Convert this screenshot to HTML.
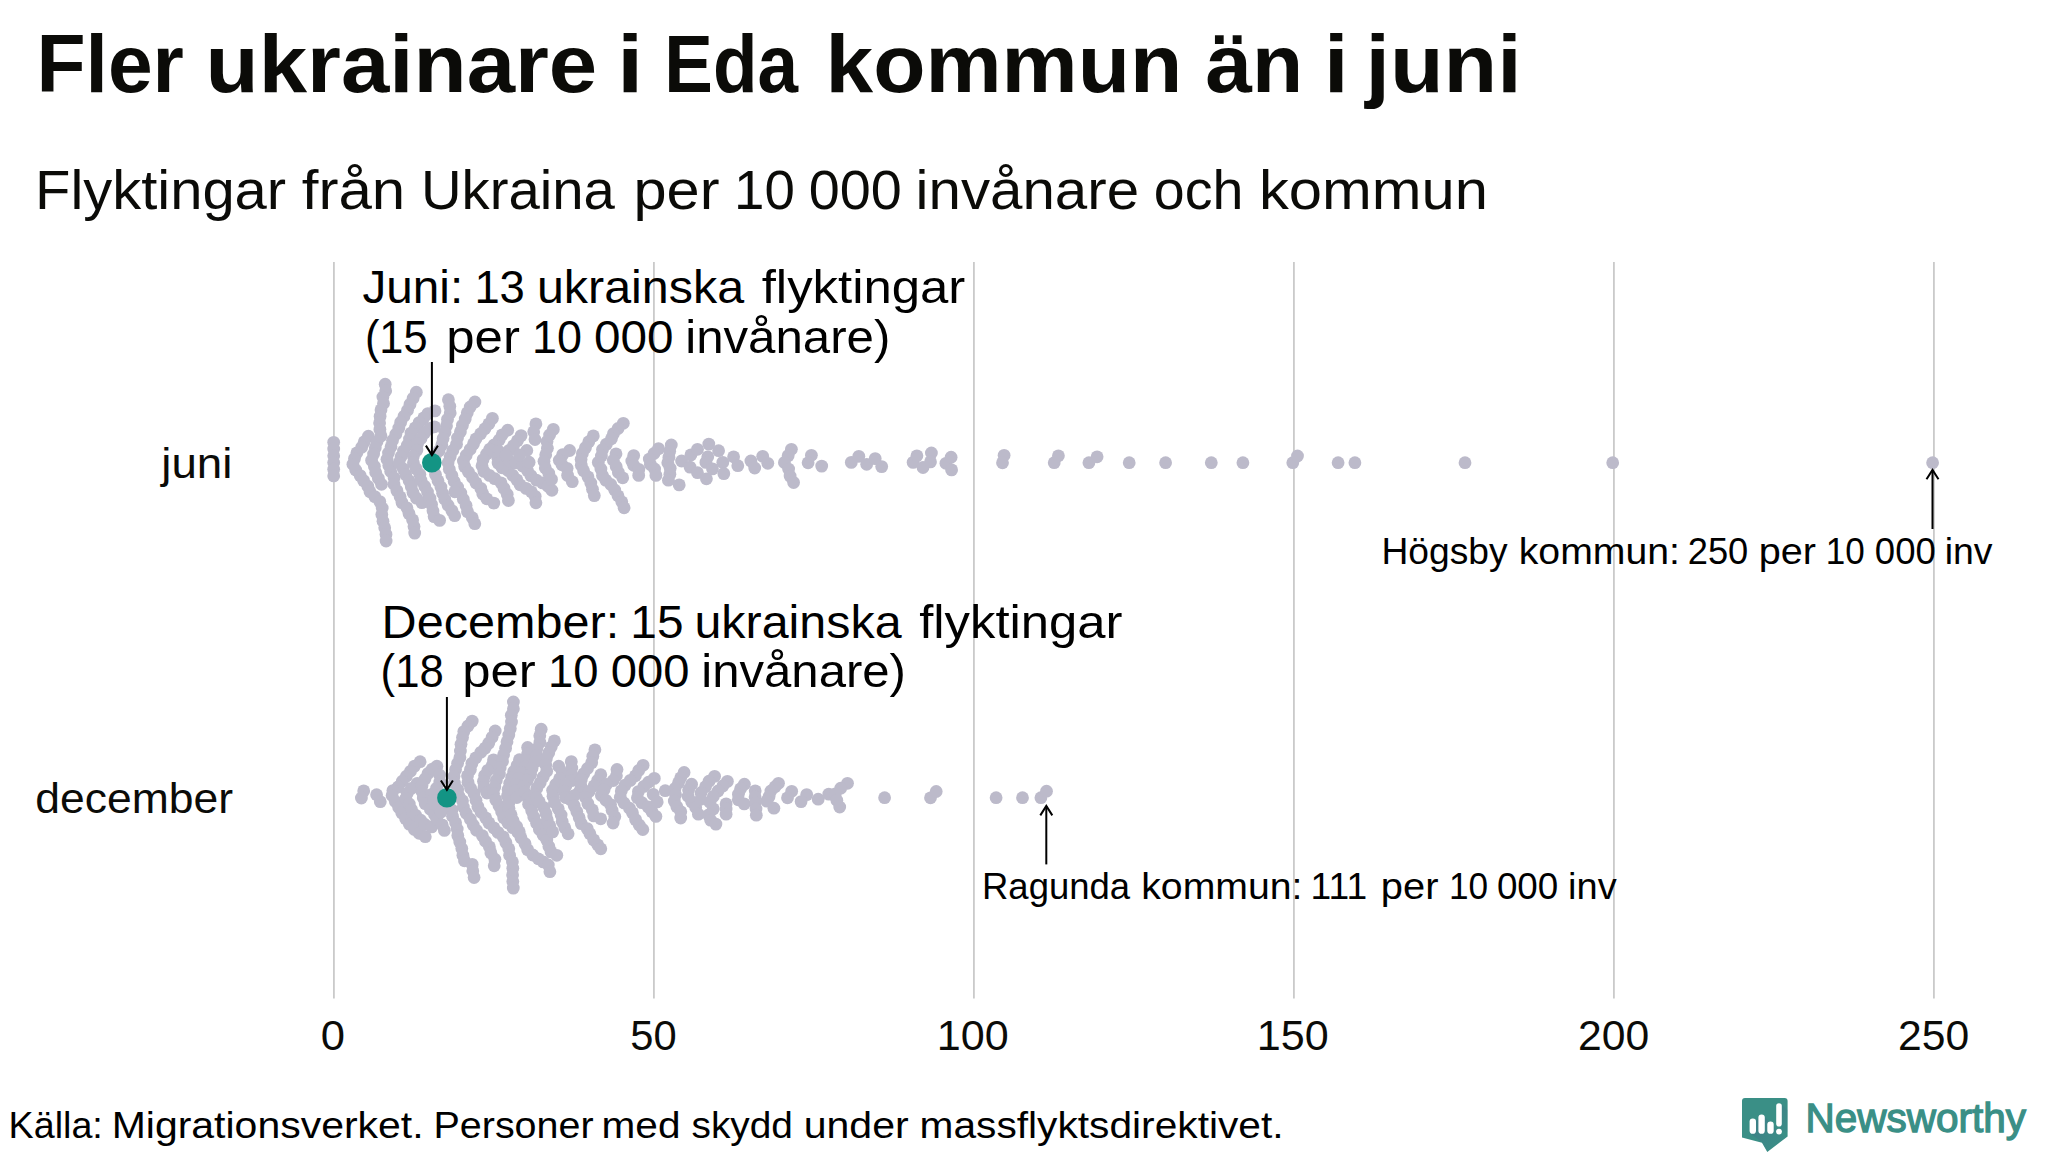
<!DOCTYPE html>
<html lang="sv"><head><meta charset="utf-8"><title>Fler ukrainare i Eda kommun än i juni</title>
<style>html,body{margin:0;padding:0;background:#fff;}svg{display:block}</style></head>
<body>
<svg width="2048" height="1152" viewBox="0 0 2048 1152">
<rect width="2048" height="1152" fill="#fff"/>
<g stroke="#cacaca" stroke-width="1.8">
<line x1="333.9" y1="262.0" x2="333.9" y2="998.5"/>
<line x1="653.9" y1="262.0" x2="653.9" y2="998.5"/>
<line x1="973.9" y1="262.0" x2="973.9" y2="998.5"/>
<line x1="1293.9" y1="262.0" x2="1293.9" y2="998.5"/>
<line x1="1613.9" y1="262.0" x2="1613.9" y2="998.5"/>
<line x1="1933.9" y1="262.0" x2="1933.9" y2="998.5"/>
</g>
<g fill="#bcbaca">
<circle cx="333.7" cy="442.3" r="6.40"/>
<circle cx="333.7" cy="449.0" r="6.40"/>
<circle cx="333.7" cy="455.7" r="6.40"/>
<circle cx="333.7" cy="462.5" r="6.40"/>
<circle cx="333.7" cy="469.2" r="6.40"/>
<circle cx="333.7" cy="475.9" r="6.40"/>
<circle cx="368.4" cy="436.2" r="6.40"/>
<circle cx="364.3" cy="441.7" r="6.40"/>
<circle cx="361.7" cy="447.2" r="6.40"/>
<circle cx="356.9" cy="452.8" r="6.40"/>
<circle cx="354.5" cy="458.6" r="6.40"/>
<circle cx="352.9" cy="464.3" r="6.40"/>
<circle cx="355.7" cy="470.0" r="6.40"/>
<circle cx="360.2" cy="475.6" r="6.40"/>
<circle cx="363.6" cy="480.6" r="6.40"/>
<circle cx="367.8" cy="486.2" r="6.40"/>
<circle cx="370.0" cy="491.8" r="6.40"/>
<circle cx="374.8" cy="496.6" r="6.40"/>
<circle cx="379.8" cy="501.6" r="6.40"/>
<circle cx="382.2" cy="508.1" r="6.40"/>
<circle cx="381.8" cy="514.6" r="6.40"/>
<circle cx="383.0" cy="521.2" r="6.40"/>
<circle cx="384.7" cy="527.8" r="6.40"/>
<circle cx="386.0" cy="534.4" r="6.40"/>
<circle cx="386.1" cy="541.0" r="6.40"/>
<circle cx="385.2" cy="384.2" r="6.40"/>
<circle cx="385.7" cy="390.7" r="6.40"/>
<circle cx="382.9" cy="397.1" r="6.40"/>
<circle cx="383.5" cy="403.5" r="6.40"/>
<circle cx="381.0" cy="409.9" r="6.40"/>
<circle cx="380.1" cy="416.4" r="6.40"/>
<circle cx="379.6" cy="422.9" r="6.40"/>
<circle cx="379.9" cy="429.4" r="6.40"/>
<circle cx="381.0" cy="435.9" r="6.40"/>
<circle cx="377.0" cy="441.8" r="6.40"/>
<circle cx="375.3" cy="447.8" r="6.40"/>
<circle cx="373.6" cy="454.1" r="6.40"/>
<circle cx="371.6" cy="460.4" r="6.40"/>
<circle cx="374.4" cy="466.4" r="6.40"/>
<circle cx="375.7" cy="472.5" r="6.40"/>
<circle cx="378.4" cy="478.4" r="6.40"/>
<circle cx="381.5" cy="484.3" r="6.40"/>
<circle cx="416.3" cy="392.2" r="6.40"/>
<circle cx="413.1" cy="398.3" r="6.40"/>
<circle cx="410.0" cy="404.4" r="6.40"/>
<circle cx="407.5" cy="410.3" r="6.40"/>
<circle cx="404.0" cy="416.2" r="6.40"/>
<circle cx="400.7" cy="422.2" r="6.40"/>
<circle cx="398.8" cy="428.1" r="6.40"/>
<circle cx="395.8" cy="434.2" r="6.40"/>
<circle cx="392.5" cy="440.5" r="6.40"/>
<circle cx="391.0" cy="446.8" r="6.40"/>
<circle cx="388.5" cy="453.0" r="6.40"/>
<circle cx="387.0" cy="459.3" r="6.40"/>
<circle cx="388.8" cy="465.5" r="6.40"/>
<circle cx="390.7" cy="471.5" r="6.40"/>
<circle cx="394.1" cy="477.9" r="6.40"/>
<circle cx="394.0" cy="484.3" r="6.40"/>
<circle cx="396.9" cy="490.6" r="6.40"/>
<circle cx="400.1" cy="496.8" r="6.40"/>
<circle cx="402.0" cy="502.6" r="6.40"/>
<circle cx="406.9" cy="507.8" r="6.40"/>
<circle cx="409.0" cy="513.6" r="6.40"/>
<circle cx="412.6" cy="519.9" r="6.40"/>
<circle cx="414.0" cy="526.5" r="6.40"/>
<circle cx="414.7" cy="533.1" r="6.40"/>
<circle cx="435.0" cy="410.9" r="6.40"/>
<circle cx="427.9" cy="413.6" r="6.40"/>
<circle cx="423.8" cy="417.9" r="6.40"/>
<circle cx="419.1" cy="422.6" r="6.40"/>
<circle cx="415.2" cy="427.8" r="6.40"/>
<circle cx="411.0" cy="433.1" r="6.40"/>
<circle cx="409.5" cy="439.1" r="6.40"/>
<circle cx="407.3" cy="445.2" r="6.40"/>
<circle cx="403.5" cy="451.1" r="6.40"/>
<circle cx="401.0" cy="456.9" r="6.40"/>
<circle cx="399.1" cy="462.9" r="6.40"/>
<circle cx="403.2" cy="468.8" r="6.40"/>
<circle cx="405.8" cy="474.7" r="6.40"/>
<circle cx="409.1" cy="480.7" r="6.40"/>
<circle cx="411.3" cy="486.7" r="6.40"/>
<circle cx="413.0" cy="492.6" r="6.40"/>
<circle cx="416.5" cy="498.2" r="6.40"/>
<circle cx="421.9" cy="502.6" r="6.40"/>
<circle cx="434.5" cy="426.8" r="6.40"/>
<circle cx="429.8" cy="428.3" r="6.40"/>
<circle cx="424.6" cy="432.9" r="6.40"/>
<circle cx="421.0" cy="438.4" r="6.40"/>
<circle cx="417.5" cy="443.9" r="6.40"/>
<circle cx="416.9" cy="450.1" r="6.40"/>
<circle cx="413.3" cy="456.2" r="6.40"/>
<circle cx="413.4" cy="462.7" r="6.40"/>
<circle cx="416.1" cy="468.6" r="6.40"/>
<circle cx="419.9" cy="474.5" r="6.40"/>
<circle cx="421.0" cy="480.4" r="6.40"/>
<circle cx="424.7" cy="486.2" r="6.40"/>
<circle cx="427.5" cy="492.1" r="6.40"/>
<circle cx="430.0" cy="498.4" r="6.40"/>
<circle cx="431.6" cy="504.6" r="6.40"/>
<circle cx="433.0" cy="511.0" r="6.40"/>
<circle cx="434.1" cy="516.6" r="6.40"/>
<circle cx="439.6" cy="520.4" r="6.40"/>
<circle cx="448.4" cy="399.7" r="6.40"/>
<circle cx="449.8" cy="406.3" r="6.40"/>
<circle cx="450.2" cy="412.9" r="6.40"/>
<circle cx="447.5" cy="419.4" r="6.40"/>
<circle cx="446.5" cy="425.9" r="6.40"/>
<circle cx="445.0" cy="432.3" r="6.40"/>
<circle cx="443.1" cy="438.6" r="6.40"/>
<circle cx="441.8" cy="444.9" r="6.40"/>
<circle cx="439.1" cy="450.8" r="6.40"/>
<circle cx="435.0" cy="456.4" r="6.40"/>
<circle cx="431.0" cy="462.1" r="6.40"/>
<circle cx="433.5" cy="468.3" r="6.40"/>
<circle cx="435.5" cy="474.6" r="6.40"/>
<circle cx="438.0" cy="480.8" r="6.40"/>
<circle cx="440.9" cy="487.1" r="6.40"/>
<circle cx="442.6" cy="493.3" r="6.40"/>
<circle cx="444.8" cy="499.3" r="6.40"/>
<circle cx="448.1" cy="505.2" r="6.40"/>
<circle cx="451.9" cy="510.6" r="6.40"/>
<circle cx="454.7" cy="515.7" r="6.40"/>
<circle cx="474.9" cy="402.0" r="6.40"/>
<circle cx="470.2" cy="407.0" r="6.40"/>
<circle cx="467.3" cy="412.7" r="6.40"/>
<circle cx="465.2" cy="419.1" r="6.40"/>
<circle cx="462.4" cy="425.4" r="6.40"/>
<circle cx="460.4" cy="431.7" r="6.40"/>
<circle cx="457.5" cy="438.0" r="6.40"/>
<circle cx="456.5" cy="444.3" r="6.40"/>
<circle cx="452.8" cy="450.5" r="6.40"/>
<circle cx="450.2" cy="456.6" r="6.40"/>
<circle cx="448.1" cy="462.8" r="6.40"/>
<circle cx="449.3" cy="469.3" r="6.40"/>
<circle cx="451.9" cy="475.5" r="6.40"/>
<circle cx="454.2" cy="481.5" r="6.40"/>
<circle cx="457.6" cy="487.1" r="6.40"/>
<circle cx="460.8" cy="493.1" r="6.40"/>
<circle cx="463.3" cy="499.2" r="6.40"/>
<circle cx="466.1" cy="505.5" r="6.40"/>
<circle cx="467.5" cy="511.8" r="6.40"/>
<circle cx="472.3" cy="517.7" r="6.40"/>
<circle cx="474.8" cy="523.7" r="6.40"/>
<circle cx="454.8" cy="491.8" r="6.40"/>
<circle cx="492.4" cy="418.4" r="6.40"/>
<circle cx="488.9" cy="423.8" r="6.40"/>
<circle cx="484.9" cy="428.7" r="6.40"/>
<circle cx="480.6" cy="433.7" r="6.40"/>
<circle cx="476.0" cy="438.8" r="6.40"/>
<circle cx="473.5" cy="443.9" r="6.40"/>
<circle cx="470.2" cy="449.3" r="6.40"/>
<circle cx="466.2" cy="455.2" r="6.40"/>
<circle cx="463.4" cy="461.1" r="6.40"/>
<circle cx="464.7" cy="466.6" r="6.40"/>
<circle cx="468.4" cy="472.0" r="6.40"/>
<circle cx="472.5" cy="477.5" r="6.40"/>
<circle cx="476.0" cy="482.9" r="6.40"/>
<circle cx="480.8" cy="488.4" r="6.40"/>
<circle cx="482.8" cy="493.9" r="6.40"/>
<circle cx="486.8" cy="498.8" r="6.40"/>
<circle cx="493.8" cy="503.1" r="6.40"/>
<circle cx="507.7" cy="430.2" r="6.40"/>
<circle cx="502.2" cy="434.8" r="6.40"/>
<circle cx="499.2" cy="440.0" r="6.40"/>
<circle cx="494.0" cy="445.0" r="6.40"/>
<circle cx="489.9" cy="449.1" r="6.40"/>
<circle cx="486.6" cy="454.0" r="6.40"/>
<circle cx="483.1" cy="459.6" r="6.40"/>
<circle cx="482.0" cy="465.7" r="6.40"/>
<circle cx="484.0" cy="471.4" r="6.40"/>
<circle cx="489.4" cy="475.4" r="6.40"/>
<circle cx="494.7" cy="478.6" r="6.40"/>
<circle cx="501.0" cy="482.8" r="6.40"/>
<circle cx="504.0" cy="488.4" r="6.40"/>
<circle cx="507.2" cy="494.3" r="6.40"/>
<circle cx="508.4" cy="500.5" r="6.40"/>
<circle cx="498.8" cy="451.2" r="6.40"/>
<circle cx="497.6" cy="457.3" r="6.40"/>
<circle cx="498.1" cy="463.1" r="6.40"/>
<circle cx="502.1" cy="467.8" r="6.40"/>
<circle cx="508.0" cy="470.5" r="6.40"/>
<circle cx="512.5" cy="475.1" r="6.40"/>
<circle cx="516.9" cy="479.9" r="6.40"/>
<circle cx="520.1" cy="484.8" r="6.40"/>
<circle cx="526.1" cy="488.4" r="6.40"/>
<circle cx="531.3" cy="491.8" r="6.40"/>
<circle cx="535.2" cy="496.3" r="6.40"/>
<circle cx="535.9" cy="502.8" r="6.40"/>
<circle cx="509.9" cy="461.4" r="6.40"/>
<circle cx="516.3" cy="462.9" r="6.40"/>
<circle cx="522.6" cy="466.0" r="6.40"/>
<circle cx="527.6" cy="470.8" r="6.40"/>
<circle cx="530.9" cy="475.6" r="6.40"/>
<circle cx="536.4" cy="480.1" r="6.40"/>
<circle cx="542.5" cy="482.9" r="6.40"/>
<circle cx="548.0" cy="486.3" r="6.40"/>
<circle cx="551.9" cy="490.3" r="6.40"/>
<circle cx="521.1" cy="435.6" r="6.40"/>
<circle cx="517.4" cy="440.7" r="6.40"/>
<circle cx="513.4" cy="445.7" r="6.40"/>
<circle cx="509.2" cy="450.4" r="6.40"/>
<circle cx="506.0" cy="455.2" r="6.40"/>
<circle cx="526.8" cy="450.5" r="6.40"/>
<circle cx="529.1" cy="462.2" r="6.40"/>
<circle cx="519.5" cy="455.0" r="6.40"/>
<circle cx="535.9" cy="423.9" r="6.40"/>
<circle cx="533.7" cy="431.7" r="6.40"/>
<circle cx="535.0" cy="439.5" r="6.40"/>
<circle cx="553.3" cy="429.4" r="6.40"/>
<circle cx="549.6" cy="435.0" r="6.40"/>
<circle cx="547.0" cy="441.5" r="6.40"/>
<circle cx="547.4" cy="448.2" r="6.40"/>
<circle cx="545.7" cy="454.7" r="6.40"/>
<circle cx="544.0" cy="461.3" r="6.40"/>
<circle cx="545.3" cy="467.9" r="6.40"/>
<circle cx="548.8" cy="473.4" r="6.40"/>
<circle cx="551.5" cy="479.4" r="6.40"/>
<circle cx="569.6" cy="450.5" r="6.40"/>
<circle cx="562.7" cy="454.6" r="6.40"/>
<circle cx="559.3" cy="460.2" r="6.40"/>
<circle cx="562.0" cy="464.8" r="6.40"/>
<circle cx="567.1" cy="468.3" r="6.40"/>
<circle cx="567.6" cy="475.4" r="6.40"/>
<circle cx="572.3" cy="481.7" r="6.40"/>
<circle cx="593.3" cy="435.9" r="6.40"/>
<circle cx="588.8" cy="441.7" r="6.40"/>
<circle cx="585.5" cy="447.6" r="6.40"/>
<circle cx="582.4" cy="453.5" r="6.40"/>
<circle cx="581.1" cy="459.5" r="6.40"/>
<circle cx="581.3" cy="465.3" r="6.40"/>
<circle cx="583.6" cy="470.8" r="6.40"/>
<circle cx="588.0" cy="476.9" r="6.40"/>
<circle cx="590.8" cy="483.1" r="6.40"/>
<circle cx="592.5" cy="489.3" r="6.40"/>
<circle cx="594.3" cy="495.6" r="6.40"/>
<circle cx="623.3" cy="423.3" r="6.40"/>
<circle cx="618.1" cy="428.5" r="6.40"/>
<circle cx="613.5" cy="433.6" r="6.40"/>
<circle cx="611.4" cy="438.8" r="6.40"/>
<circle cx="606.5" cy="444.1" r="6.40"/>
<circle cx="602.5" cy="449.6" r="6.40"/>
<circle cx="601.4" cy="456.0" r="6.40"/>
<circle cx="598.3" cy="462.4" r="6.40"/>
<circle cx="600.9" cy="469.0" r="6.40"/>
<circle cx="602.5" cy="475.5" r="6.40"/>
<circle cx="605.7" cy="480.1" r="6.40"/>
<circle cx="610.8" cy="484.5" r="6.40"/>
<circle cx="614.7" cy="490.0" r="6.40"/>
<circle cx="618.0" cy="495.8" r="6.40"/>
<circle cx="621.8" cy="501.8" r="6.40"/>
<circle cx="624.1" cy="507.8" r="6.40"/>
<circle cx="616.0" cy="453.8" r="6.40"/>
<circle cx="613.3" cy="460.3" r="6.40"/>
<circle cx="616.2" cy="466.5" r="6.40"/>
<circle cx="618.4" cy="472.4" r="6.40"/>
<circle cx="622.7" cy="477.8" r="6.40"/>
<circle cx="633.7" cy="455.6" r="6.40"/>
<circle cx="631.8" cy="461.1" r="6.40"/>
<circle cx="633.7" cy="465.3" r="6.40"/>
<circle cx="638.8" cy="469.4" r="6.40"/>
<circle cx="638.7" cy="475.4" r="6.40"/>
<circle cx="658.5" cy="448.6" r="6.40"/>
<circle cx="654.0" cy="453.5" r="6.40"/>
<circle cx="649.3" cy="459.1" r="6.40"/>
<circle cx="650.4" cy="464.4" r="6.40"/>
<circle cx="654.6" cy="469.0" r="6.40"/>
<circle cx="655.9" cy="475.4" r="6.40"/>
<circle cx="671.3" cy="445.0" r="6.40"/>
<circle cx="669.7" cy="451.3" r="6.40"/>
<circle cx="668.9" cy="457.2" r="6.40"/>
<circle cx="667.8" cy="462.7" r="6.40"/>
<circle cx="670.2" cy="468.3" r="6.40"/>
<circle cx="669.9" cy="474.2" r="6.40"/>
<circle cx="668.4" cy="480.2" r="6.40"/>
<circle cx="679.2" cy="484.9" r="6.40"/>
<circle cx="681.6" cy="461.0" r="6.40"/>
<circle cx="690.9" cy="454.9" r="6.40"/>
<circle cx="697.5" cy="449.3" r="6.40"/>
<circle cx="690.0" cy="467.1" r="6.40"/>
<circle cx="697.5" cy="472.7" r="6.40"/>
<circle cx="706.4" cy="478.8" r="6.40"/>
<circle cx="708.8" cy="444.1" r="6.40"/>
<circle cx="718.6" cy="450.7" r="6.40"/>
<circle cx="707.8" cy="456.8" r="6.40"/>
<circle cx="705.9" cy="462.4" r="6.40"/>
<circle cx="712.5" cy="468.9" r="6.40"/>
<circle cx="722.8" cy="462.4" r="6.40"/>
<circle cx="723.8" cy="473.6" r="6.40"/>
<circle cx="733.6" cy="456.8" r="6.40"/>
<circle cx="737.8" cy="465.7" r="6.40"/>
<circle cx="750.9" cy="461.0" r="6.40"/>
<circle cx="754.7" cy="468.0" r="6.40"/>
<circle cx="762.7" cy="456.3" r="6.40"/>
<circle cx="767.8" cy="463.3" r="6.40"/>
<circle cx="791.4" cy="449.3" r="6.40"/>
<circle cx="788.2" cy="455.6" r="6.40"/>
<circle cx="784.4" cy="462.5" r="6.40"/>
<circle cx="788.6" cy="469.1" r="6.40"/>
<circle cx="790.1" cy="476.1" r="6.40"/>
<circle cx="793.6" cy="482.5" r="6.40"/>
<circle cx="811.4" cy="455.3" r="6.40"/>
<circle cx="808.1" cy="462.8" r="6.40"/>
<circle cx="821.7" cy="466.1" r="6.40"/>
<circle cx="851.3" cy="462.4" r="6.40"/>
<circle cx="858.8" cy="456.3" r="6.40"/>
<circle cx="866.7" cy="464.3" r="6.40"/>
<circle cx="875.2" cy="458.6" r="6.40"/>
<circle cx="881.7" cy="466.6" r="6.40"/>
<circle cx="913.1" cy="462.4" r="6.40"/>
<circle cx="916.9" cy="455.8" r="6.40"/>
<circle cx="923.0" cy="467.5" r="6.40"/>
<circle cx="931.4" cy="453.0" r="6.40"/>
<circle cx="930.5" cy="461.9" r="6.40"/>
<circle cx="945.9" cy="463.3" r="6.40"/>
<circle cx="951.1" cy="457.2" r="6.40"/>
<circle cx="951.6" cy="469.9" r="6.40"/>
<circle cx="1004.1" cy="455.3" r="6.40"/>
<circle cx="1002.5" cy="462.8" r="6.40"/>
<circle cx="1054.2" cy="462.7" r="6.40"/>
<circle cx="1058.4" cy="455.8" r="6.40"/>
<circle cx="1088.9" cy="462.7" r="6.40"/>
<circle cx="1097.1" cy="456.8" r="6.40"/>
<circle cx="1129.2" cy="462.7" r="6.40"/>
<circle cx="1165.6" cy="462.7" r="6.40"/>
<circle cx="1211.3" cy="462.7" r="6.40"/>
<circle cx="1242.9" cy="462.7" r="6.40"/>
<circle cx="1292.8" cy="462.7" r="6.40"/>
<circle cx="1297.5" cy="456.0" r="6.40"/>
<circle cx="1338.1" cy="462.7" r="6.40"/>
<circle cx="1354.9" cy="462.7" r="6.40"/>
<circle cx="1465.0" cy="462.7" r="6.40"/>
<circle cx="1612.7" cy="462.7" r="6.40"/>
<circle cx="1932.6" cy="462.7" r="6.40"/>
<circle cx="363.7" cy="790.9" r="6.40"/>
<circle cx="361.4" cy="798.0" r="6.40"/>
<circle cx="376.6" cy="794.7" r="6.40"/>
<circle cx="380.3" cy="801.7" r="6.40"/>
<circle cx="420.1" cy="761.7" r="6.40"/>
<circle cx="414.5" cy="766.1" r="6.40"/>
<circle cx="410.5" cy="771.3" r="6.40"/>
<circle cx="406.4" cy="776.2" r="6.40"/>
<circle cx="402.3" cy="781.2" r="6.40"/>
<circle cx="398.1" cy="787.0" r="6.40"/>
<circle cx="392.9" cy="790.6" r="6.40"/>
<circle cx="392.1" cy="795.5" r="6.40"/>
<circle cx="395.3" cy="801.5" r="6.40"/>
<circle cx="398.7" cy="807.4" r="6.40"/>
<circle cx="401.8" cy="813.0" r="6.40"/>
<circle cx="405.6" cy="818.6" r="6.40"/>
<circle cx="409.3" cy="824.1" r="6.40"/>
<circle cx="414.4" cy="829.4" r="6.40"/>
<circle cx="419.2" cy="833.3" r="6.40"/>
<circle cx="425.3" cy="836.7" r="6.40"/>
<circle cx="417.2" cy="783.3" r="6.40"/>
<circle cx="411.3" cy="788.5" r="6.40"/>
<circle cx="407.2" cy="793.3" r="6.40"/>
<circle cx="405.8" cy="798.4" r="6.40"/>
<circle cx="409.3" cy="804.0" r="6.40"/>
<circle cx="411.5" cy="809.6" r="6.40"/>
<circle cx="415.5" cy="815.1" r="6.40"/>
<circle cx="420.7" cy="820.2" r="6.40"/>
<circle cx="425.0" cy="824.5" r="6.40"/>
<circle cx="431.7" cy="826.9" r="6.40"/>
<circle cx="436.9" cy="766.2" r="6.40"/>
<circle cx="432.3" cy="769.1" r="6.40"/>
<circle cx="428.0" cy="773.5" r="6.40"/>
<circle cx="425.0" cy="779.0" r="6.40"/>
<circle cx="422.0" cy="785.4" r="6.40"/>
<circle cx="422.0" cy="791.8" r="6.40"/>
<circle cx="423.3" cy="798.0" r="6.40"/>
<circle cx="425.2" cy="803.7" r="6.40"/>
<circle cx="430.3" cy="809.2" r="6.40"/>
<circle cx="434.5" cy="814.4" r="6.40"/>
<circle cx="436.8" cy="819.5" r="6.40"/>
<circle cx="442.2" cy="824.8" r="6.40"/>
<circle cx="444.4" cy="830.4" r="6.40"/>
<circle cx="439.5" cy="775.0" r="6.40"/>
<circle cx="439.8" cy="782.0" r="6.40"/>
<circle cx="436.5" cy="788.3" r="6.40"/>
<circle cx="431.7" cy="794.4" r="6.40"/>
<circle cx="433.5" cy="800.4" r="6.40"/>
<circle cx="437.6" cy="806.2" r="6.40"/>
<circle cx="441.1" cy="812.0" r="6.40"/>
<circle cx="446.2" cy="797.5" r="6.40"/>
<circle cx="448.8" cy="803.8" r="6.40"/>
<circle cx="452.0" cy="810.0" r="6.40"/>
<circle cx="452.5" cy="816.3" r="6.40"/>
<circle cx="455.6" cy="822.7" r="6.40"/>
<circle cx="457.2" cy="829.1" r="6.40"/>
<circle cx="457.8" cy="835.6" r="6.40"/>
<circle cx="459.8" cy="842.1" r="6.40"/>
<circle cx="461.8" cy="848.6" r="6.40"/>
<circle cx="462.9" cy="855.2" r="6.40"/>
<circle cx="464.5" cy="860.8" r="6.40"/>
<circle cx="472.2" cy="864.4" r="6.40"/>
<circle cx="472.8" cy="870.9" r="6.40"/>
<circle cx="474.1" cy="877.5" r="6.40"/>
<circle cx="472.2" cy="721.1" r="6.40"/>
<circle cx="468.0" cy="726.0" r="6.40"/>
<circle cx="463.8" cy="731.6" r="6.40"/>
<circle cx="462.5" cy="737.6" r="6.40"/>
<circle cx="461.0" cy="744.3" r="6.40"/>
<circle cx="460.4" cy="751.0" r="6.40"/>
<circle cx="459.9" cy="757.5" r="6.40"/>
<circle cx="457.6" cy="763.3" r="6.40"/>
<circle cx="455.6" cy="769.6" r="6.40"/>
<circle cx="454.0" cy="776.3" r="6.40"/>
<circle cx="454.4" cy="783.0" r="6.40"/>
<circle cx="457.7" cy="789.5" r="6.40"/>
<circle cx="458.8" cy="796.0" r="6.40"/>
<circle cx="462.5" cy="800.7" r="6.40"/>
<circle cx="463.4" cy="807.0" r="6.40"/>
<circle cx="466.1" cy="813.1" r="6.40"/>
<circle cx="470.3" cy="819.2" r="6.40"/>
<circle cx="473.2" cy="825.0" r="6.40"/>
<circle cx="476.5" cy="830.3" r="6.40"/>
<circle cx="482.4" cy="835.7" r="6.40"/>
<circle cx="485.5" cy="841.3" r="6.40"/>
<circle cx="489.4" cy="846.9" r="6.40"/>
<circle cx="490.9" cy="852.9" r="6.40"/>
<circle cx="494.9" cy="859.2" r="6.40"/>
<circle cx="494.2" cy="865.8" r="6.40"/>
<circle cx="495.2" cy="731.0" r="6.40"/>
<circle cx="492.1" cy="737.3" r="6.40"/>
<circle cx="488.8" cy="743.1" r="6.40"/>
<circle cx="485.1" cy="748.1" r="6.40"/>
<circle cx="480.8" cy="752.3" r="6.40"/>
<circle cx="475.8" cy="757.8" r="6.40"/>
<circle cx="471.9" cy="763.4" r="6.40"/>
<circle cx="470.4" cy="769.6" r="6.40"/>
<circle cx="467.5" cy="775.8" r="6.40"/>
<circle cx="468.0" cy="782.2" r="6.40"/>
<circle cx="470.6" cy="788.2" r="6.40"/>
<circle cx="474.1" cy="793.7" r="6.40"/>
<circle cx="476.0" cy="800.2" r="6.40"/>
<circle cx="477.9" cy="806.6" r="6.40"/>
<circle cx="481.1" cy="812.3" r="6.40"/>
<circle cx="485.7" cy="817.9" r="6.40"/>
<circle cx="488.9" cy="822.9" r="6.40"/>
<circle cx="493.9" cy="827.9" r="6.40"/>
<circle cx="498.0" cy="832.4" r="6.40"/>
<circle cx="503.2" cy="836.9" r="6.40"/>
<circle cx="505.9" cy="842.6" r="6.40"/>
<circle cx="508.8" cy="848.7" r="6.40"/>
<circle cx="509.6" cy="855.2" r="6.40"/>
<circle cx="512.4" cy="861.7" r="6.40"/>
<circle cx="512.8" cy="868.3" r="6.40"/>
<circle cx="512.6" cy="874.9" r="6.40"/>
<circle cx="512.8" cy="881.5" r="6.40"/>
<circle cx="513.3" cy="888.1" r="6.40"/>
<circle cx="493.5" cy="759.8" r="6.40"/>
<circle cx="492.3" cy="765.4" r="6.40"/>
<circle cx="487.8" cy="770.4" r="6.40"/>
<circle cx="484.6" cy="775.6" r="6.40"/>
<circle cx="483.5" cy="781.3" r="6.40"/>
<circle cx="484.0" cy="787.4" r="6.40"/>
<circle cx="486.9" cy="793.0" r="6.40"/>
<circle cx="513.4" cy="702.0" r="6.40"/>
<circle cx="513.4" cy="708.7" r="6.40"/>
<circle cx="511.3" cy="715.3" r="6.40"/>
<circle cx="511.5" cy="722.0" r="6.40"/>
<circle cx="510.3" cy="728.6" r="6.40"/>
<circle cx="508.8" cy="735.1" r="6.40"/>
<circle cx="507.0" cy="741.7" r="6.40"/>
<circle cx="505.6" cy="748.3" r="6.40"/>
<circle cx="503.6" cy="754.8" r="6.40"/>
<circle cx="502.5" cy="761.4" r="6.40"/>
<circle cx="500.2" cy="767.7" r="6.40"/>
<circle cx="499.4" cy="774.0" r="6.40"/>
<circle cx="496.3" cy="780.4" r="6.40"/>
<circle cx="494.8" cy="787.0" r="6.40"/>
<circle cx="493.5" cy="793.6" r="6.40"/>
<circle cx="495.8" cy="799.9" r="6.40"/>
<circle cx="499.0" cy="805.8" r="6.40"/>
<circle cx="501.6" cy="811.8" r="6.40"/>
<circle cx="503.7" cy="817.8" r="6.40"/>
<circle cx="507.9" cy="822.9" r="6.40"/>
<circle cx="512.7" cy="827.6" r="6.40"/>
<circle cx="517.8" cy="832.3" r="6.40"/>
<circle cx="521.0" cy="837.8" r="6.40"/>
<circle cx="525.0" cy="843.6" r="6.40"/>
<circle cx="527.6" cy="849.6" r="6.40"/>
<circle cx="532.8" cy="855.0" r="6.40"/>
<circle cx="538.3" cy="858.8" r="6.40"/>
<circle cx="543.2" cy="861.9" r="6.40"/>
<circle cx="548.3" cy="865.0" r="6.40"/>
<circle cx="549.9" cy="871.7" r="6.40"/>
<circle cx="519.4" cy="759.7" r="6.40"/>
<circle cx="517.1" cy="765.6" r="6.40"/>
<circle cx="513.7" cy="771.5" r="6.40"/>
<circle cx="511.7" cy="777.3" r="6.40"/>
<circle cx="509.7" cy="783.3" r="6.40"/>
<circle cx="508.1" cy="789.5" r="6.40"/>
<circle cx="507.4" cy="795.9" r="6.40"/>
<circle cx="509.0" cy="802.2" r="6.40"/>
<circle cx="509.0" cy="808.6" r="6.40"/>
<circle cx="511.1" cy="814.8" r="6.40"/>
<circle cx="513.2" cy="820.7" r="6.40"/>
<circle cx="516.7" cy="826.5" r="6.40"/>
<circle cx="519.3" cy="831.9" r="6.40"/>
<circle cx="527.6" cy="747.5" r="6.40"/>
<circle cx="527.7" cy="754.1" r="6.40"/>
<circle cx="526.6" cy="760.7" r="6.40"/>
<circle cx="525.2" cy="767.0" r="6.40"/>
<circle cx="522.1" cy="772.8" r="6.40"/>
<circle cx="518.8" cy="778.3" r="6.40"/>
<circle cx="516.3" cy="784.5" r="6.40"/>
<circle cx="515.5" cy="790.9" r="6.40"/>
<circle cx="516.8" cy="797.5" r="6.40"/>
<circle cx="541.2" cy="729.2" r="6.40"/>
<circle cx="539.8" cy="735.8" r="6.40"/>
<circle cx="539.9" cy="742.4" r="6.40"/>
<circle cx="536.8" cy="748.9" r="6.40"/>
<circle cx="536.8" cy="755.5" r="6.40"/>
<circle cx="535.2" cy="762.0" r="6.40"/>
<circle cx="532.0" cy="768.5" r="6.40"/>
<circle cx="530.6" cy="774.4" r="6.40"/>
<circle cx="527.4" cy="780.2" r="6.40"/>
<circle cx="523.8" cy="786.1" r="6.40"/>
<circle cx="524.5" cy="792.1" r="6.40"/>
<circle cx="527.8" cy="798.0" r="6.40"/>
<circle cx="528.6" cy="804.3" r="6.40"/>
<circle cx="531.7" cy="810.6" r="6.40"/>
<circle cx="533.8" cy="817.0" r="6.40"/>
<circle cx="536.6" cy="823.3" r="6.40"/>
<circle cx="539.4" cy="829.4" r="6.40"/>
<circle cx="543.1" cy="834.9" r="6.40"/>
<circle cx="546.8" cy="840.1" r="6.40"/>
<circle cx="548.9" cy="846.5" r="6.40"/>
<circle cx="551.0" cy="851.9" r="6.40"/>
<circle cx="556.8" cy="855.3" r="6.40"/>
<circle cx="554.4" cy="740.9" r="6.40"/>
<circle cx="551.3" cy="746.8" r="6.40"/>
<circle cx="548.8" cy="752.7" r="6.40"/>
<circle cx="546.4" cy="758.5" r="6.40"/>
<circle cx="545.7" cy="764.9" r="6.40"/>
<circle cx="546.7" cy="771.3" r="6.40"/>
<circle cx="543.2" cy="777.0" r="6.40"/>
<circle cx="540.2" cy="782.7" r="6.40"/>
<circle cx="536.8" cy="788.2" r="6.40"/>
<circle cx="534.8" cy="794.3" r="6.40"/>
<circle cx="536.5" cy="797.5" r="6.40"/>
<circle cx="539.3" cy="801.9" r="6.40"/>
<circle cx="544.0" cy="807.6" r="6.40"/>
<circle cx="546.0" cy="813.7" r="6.40"/>
<circle cx="547.3" cy="819.9" r="6.40"/>
<circle cx="549.8" cy="825.9" r="6.40"/>
<circle cx="552.6" cy="831.9" r="6.40"/>
<circle cx="558.7" cy="766.2" r="6.40"/>
<circle cx="562.3" cy="772.6" r="6.40"/>
<circle cx="559.6" cy="778.7" r="6.40"/>
<circle cx="555.7" cy="784.5" r="6.40"/>
<circle cx="552.6" cy="790.3" r="6.40"/>
<circle cx="553.0" cy="796.2" r="6.40"/>
<circle cx="554.5" cy="802.5" r="6.40"/>
<circle cx="558.3" cy="808.8" r="6.40"/>
<circle cx="561.1" cy="815.1" r="6.40"/>
<circle cx="562.2" cy="821.6" r="6.40"/>
<circle cx="564.8" cy="827.7" r="6.40"/>
<circle cx="568.1" cy="833.8" r="6.40"/>
<circle cx="571.3" cy="761.6" r="6.40"/>
<circle cx="571.8" cy="768.0" r="6.40"/>
<circle cx="571.9" cy="774.5" r="6.40"/>
<circle cx="571.3" cy="780.6" r="6.40"/>
<circle cx="566.0" cy="785.6" r="6.40"/>
<circle cx="564.1" cy="791.2" r="6.40"/>
<circle cx="565.5" cy="797.5" r="6.40"/>
<circle cx="594.9" cy="749.8" r="6.40"/>
<circle cx="592.8" cy="756.3" r="6.40"/>
<circle cx="591.7" cy="762.6" r="6.40"/>
<circle cx="587.5" cy="768.5" r="6.40"/>
<circle cx="583.7" cy="773.7" r="6.40"/>
<circle cx="581.3" cy="779.4" r="6.40"/>
<circle cx="581.0" cy="785.8" r="6.40"/>
<circle cx="579.2" cy="792.1" r="6.40"/>
<circle cx="574.1" cy="795.7" r="6.40"/>
<circle cx="570.7" cy="799.7" r="6.40"/>
<circle cx="574.2" cy="805.6" r="6.40"/>
<circle cx="576.8" cy="811.6" r="6.40"/>
<circle cx="579.2" cy="817.7" r="6.40"/>
<circle cx="581.3" cy="823.6" r="6.40"/>
<circle cx="587.2" cy="828.6" r="6.40"/>
<circle cx="589.9" cy="833.7" r="6.40"/>
<circle cx="593.7" cy="839.9" r="6.40"/>
<circle cx="597.7" cy="844.8" r="6.40"/>
<circle cx="600.8" cy="848.8" r="6.40"/>
<circle cx="600.8" cy="774.7" r="6.40"/>
<circle cx="597.7" cy="780.3" r="6.40"/>
<circle cx="594.1" cy="785.8" r="6.40"/>
<circle cx="589.1" cy="791.4" r="6.40"/>
<circle cx="585.5" cy="797.4" r="6.40"/>
<circle cx="587.9" cy="803.6" r="6.40"/>
<circle cx="592.3" cy="809.8" r="6.40"/>
<circle cx="593.7" cy="815.9" r="6.40"/>
<circle cx="600.7" cy="818.8" r="6.40"/>
<circle cx="617.0" cy="769.5" r="6.40"/>
<circle cx="616.4" cy="775.8" r="6.40"/>
<circle cx="613.2" cy="780.5" r="6.40"/>
<circle cx="606.4" cy="784.5" r="6.40"/>
<circle cx="604.1" cy="789.7" r="6.40"/>
<circle cx="601.4" cy="795.4" r="6.40"/>
<circle cx="606.0" cy="800.3" r="6.40"/>
<circle cx="610.5" cy="804.6" r="6.40"/>
<circle cx="612.1" cy="810.3" r="6.40"/>
<circle cx="614.8" cy="816.6" r="6.40"/>
<circle cx="613.1" cy="823.0" r="6.40"/>
<circle cx="643.1" cy="765.3" r="6.40"/>
<circle cx="638.7" cy="770.5" r="6.40"/>
<circle cx="635.4" cy="775.8" r="6.40"/>
<circle cx="630.3" cy="780.4" r="6.40"/>
<circle cx="625.1" cy="785.1" r="6.40"/>
<circle cx="621.3" cy="790.9" r="6.40"/>
<circle cx="620.3" cy="797.4" r="6.40"/>
<circle cx="624.0" cy="803.0" r="6.40"/>
<circle cx="629.5" cy="808.2" r="6.40"/>
<circle cx="632.5" cy="812.9" r="6.40"/>
<circle cx="635.6" cy="819.6" r="6.40"/>
<circle cx="639.2" cy="825.0" r="6.40"/>
<circle cx="642.8" cy="829.5" r="6.40"/>
<circle cx="654.3" cy="778.4" r="6.40"/>
<circle cx="648.5" cy="782.2" r="6.40"/>
<circle cx="643.9" cy="786.4" r="6.40"/>
<circle cx="638.4" cy="791.6" r="6.40"/>
<circle cx="637.4" cy="797.7" r="6.40"/>
<circle cx="641.8" cy="802.6" r="6.40"/>
<circle cx="648.1" cy="806.9" r="6.40"/>
<circle cx="651.9" cy="811.6" r="6.40"/>
<circle cx="655.9" cy="816.4" r="6.40"/>
<circle cx="653.2" cy="794.4" r="6.40"/>
<circle cx="657.2" cy="801.9" r="6.40"/>
<circle cx="665.2" cy="790.7" r="6.40"/>
<circle cx="684.1" cy="772.5" r="6.40"/>
<circle cx="680.7" cy="777.8" r="6.40"/>
<circle cx="678.5" cy="782.8" r="6.40"/>
<circle cx="675.0" cy="788.5" r="6.40"/>
<circle cx="675.6" cy="794.8" r="6.40"/>
<circle cx="674.3" cy="801.1" r="6.40"/>
<circle cx="676.8" cy="806.6" r="6.40"/>
<circle cx="680.8" cy="811.7" r="6.40"/>
<circle cx="680.7" cy="818.0" r="6.40"/>
<circle cx="691.6" cy="784.2" r="6.40"/>
<circle cx="688.6" cy="789.9" r="6.40"/>
<circle cx="688.1" cy="796.3" r="6.40"/>
<circle cx="691.7" cy="802.0" r="6.40"/>
<circle cx="695.7" cy="807.4" r="6.40"/>
<circle cx="698.4" cy="814.2" r="6.40"/>
<circle cx="714.6" cy="776.3" r="6.40"/>
<circle cx="709.0" cy="781.2" r="6.40"/>
<circle cx="705.5" cy="786.7" r="6.40"/>
<circle cx="701.0" cy="792.7" r="6.40"/>
<circle cx="700.8" cy="799.2" r="6.40"/>
<circle cx="727.4" cy="781.4" r="6.40"/>
<circle cx="722.9" cy="785.9" r="6.40"/>
<circle cx="718.1" cy="791.0" r="6.40"/>
<circle cx="713.3" cy="796.5" r="6.40"/>
<circle cx="709.9" cy="802.3" r="6.40"/>
<circle cx="713.3" cy="808.9" r="6.40"/>
<circle cx="708.5" cy="815.0" r="6.40"/>
<circle cx="710.6" cy="820.1" r="6.40"/>
<circle cx="715.9" cy="824.1" r="6.40"/>
<circle cx="726.1" cy="803.9" r="6.40"/>
<circle cx="726.1" cy="809.0" r="6.40"/>
<circle cx="726.1" cy="814.2" r="6.40"/>
<circle cx="744.4" cy="784.2" r="6.40"/>
<circle cx="740.6" cy="788.7" r="6.40"/>
<circle cx="738.4" cy="794.2" r="6.40"/>
<circle cx="738.3" cy="799.8" r="6.40"/>
<circle cx="744.2" cy="803.9" r="6.40"/>
<circle cx="755.2" cy="790.8" r="6.40"/>
<circle cx="755.1" cy="796.9" r="6.40"/>
<circle cx="755.4" cy="803.0" r="6.40"/>
<circle cx="756.0" cy="809.0" r="6.40"/>
<circle cx="756.3" cy="815.2" r="6.40"/>
<circle cx="778.5" cy="783.3" r="6.40"/>
<circle cx="775.1" cy="786.7" r="6.40"/>
<circle cx="770.9" cy="791.0" r="6.40"/>
<circle cx="769.1" cy="796.6" r="6.40"/>
<circle cx="766.8" cy="801.1" r="6.40"/>
<circle cx="773.9" cy="808.2" r="6.40"/>
<circle cx="791.7" cy="791.3" r="6.40"/>
<circle cx="787.5" cy="797.8" r="6.40"/>
<circle cx="806.7" cy="794.6" r="6.40"/>
<circle cx="801.1" cy="801.6" r="6.40"/>
<circle cx="818.2" cy="799.2" r="6.40"/>
<circle cx="828.8" cy="794.1" r="6.40"/>
<circle cx="847.5" cy="783.3" r="6.40"/>
<circle cx="840.7" cy="788.2" r="6.40"/>
<circle cx="835.3" cy="794.0" r="6.40"/>
<circle cx="836.8" cy="800.2" r="6.40"/>
<circle cx="839.7" cy="807.0" r="6.40"/>
<circle cx="884.6" cy="797.7" r="6.40"/>
<circle cx="930.5" cy="797.8" r="6.40"/>
<circle cx="936.2" cy="791.5" r="6.40"/>
<circle cx="996.1" cy="797.7" r="6.40"/>
<circle cx="1022.5" cy="797.7" r="6.40"/>
<circle cx="1040.9" cy="797.7" r="6.40"/>
<circle cx="1046.5" cy="791.2" r="6.40"/>
</g>
<circle cx="431.8" cy="462.8" r="9.8" fill="#139484"/>
<circle cx="446.9" cy="797.7" r="9.8" fill="#139484"/>
<g stroke="#000" stroke-width="2" fill="none"><line x1="431.9" y1="362" x2="431.9" y2="455.05"/><polyline points="425.9,445.65 431.9,455.05 437.9,445.65"/></g>
<g stroke="#000" stroke-width="2" fill="none"><line x1="446.9" y1="697" x2="446.9" y2="789.85"/><polyline points="440.9,780.45 446.9,789.85 452.9,780.45"/></g>
<g stroke="#000" stroke-width="2" fill="none"><line x1="1932.5" y1="529" x2="1932.5" y2="469.9"/><polyline points="1926.5,479.3 1932.5,469.9 1938.5,479.3"/></g>
<g stroke="#000" stroke-width="2" fill="none"><line x1="1046.3" y1="864.4" x2="1046.3" y2="805.95"/><polyline points="1040.3,815.35 1046.3,805.95 1052.3,815.35"/></g>
<g font-family='"Liberation Sans", sans-serif'>
<text y="92.3" font-size="82" font-weight="bold" fill="#0b0b08"><tspan x="36.46" textLength="147.43" lengthAdjust="spacingAndGlyphs">Fler</tspan> <tspan x="205.55" textLength="391.71" lengthAdjust="spacingAndGlyphs">ukrainare</tspan> <tspan x="617.03" textLength="26.36" lengthAdjust="spacingAndGlyphs">i</tspan> <tspan x="664.30" textLength="133.62" lengthAdjust="spacingAndGlyphs">Eda</tspan> <tspan x="825.64" textLength="356.67" lengthAdjust="spacingAndGlyphs">kommun</tspan> <tspan x="1205.46" textLength="97.74" lengthAdjust="spacingAndGlyphs">än</tspan> <tspan x="1323.99" textLength="24.53" lengthAdjust="spacingAndGlyphs">i</tspan> <tspan x="1365.49" textLength="156.19" lengthAdjust="spacingAndGlyphs">juni</tspan></text>
<text y="209.1" font-size="55" font-weight="normal" fill="#0b0b08"><tspan x="35.01" textLength="251.12" lengthAdjust="spacingAndGlyphs">Flyktingar</tspan> <tspan x="301.70" textLength="103.52" lengthAdjust="spacingAndGlyphs">från</tspan> <tspan x="420.92" textLength="193.96" lengthAdjust="spacingAndGlyphs">Ukraina</tspan> <tspan x="633.50" textLength="85.99" lengthAdjust="spacingAndGlyphs">per</tspan> <tspan x="734.08" textLength="60.78" lengthAdjust="spacingAndGlyphs">10</tspan> <tspan x="808.85" textLength="93.04" lengthAdjust="spacingAndGlyphs">000</tspan> <tspan x="915.55" textLength="223.57" lengthAdjust="spacingAndGlyphs">invånare</tspan> <tspan x="1153.86" textLength="89.52" lengthAdjust="spacingAndGlyphs">och</tspan> <tspan x="1258.96" textLength="229.13" lengthAdjust="spacingAndGlyphs">kommun</tspan></text>
<text y="302.9" font-size="47" font-weight="normal" fill="#000"><tspan x="362.55" textLength="100.65" lengthAdjust="spacingAndGlyphs">Juni:</tspan> <tspan x="474.40" textLength="50.47" lengthAdjust="spacingAndGlyphs">13</tspan> <tspan x="536.93" textLength="207.14" lengthAdjust="spacingAndGlyphs">ukrainska</tspan> <tspan x="761.70" textLength="203.64" lengthAdjust="spacingAndGlyphs">flyktingar</tspan></text>
<text y="352.6" font-size="47" font-weight="normal" fill="#000"><tspan x="364.89" textLength="62.60" lengthAdjust="spacingAndGlyphs">(15</tspan> <tspan x="446.27" textLength="73.58" lengthAdjust="spacingAndGlyphs">per</tspan> <tspan x="531.93" textLength="49.93" lengthAdjust="spacingAndGlyphs">10</tspan> <tspan x="594.07" textLength="79.50" lengthAdjust="spacingAndGlyphs">000</tspan> <tspan x="685.22" textLength="205.05" lengthAdjust="spacingAndGlyphs">invånare)</tspan></text>
<text y="637.9" font-size="47" font-weight="normal" fill="#000"><tspan x="381.61" textLength="237.57" lengthAdjust="spacingAndGlyphs">December:</tspan> <tspan x="630.39" textLength="53.18" lengthAdjust="spacingAndGlyphs">15</tspan> <tspan x="694.43" textLength="207.14" lengthAdjust="spacingAndGlyphs">ukrainska</tspan> <tspan x="919.20" textLength="203.36" lengthAdjust="spacingAndGlyphs">flyktingar</tspan></text>
<text y="687.4" font-size="47" font-weight="normal" fill="#000"><tspan x="380.62" textLength="63.13" lengthAdjust="spacingAndGlyphs">(18</tspan> <tspan x="462.26" textLength="73.45" lengthAdjust="spacingAndGlyphs">per</tspan> <tspan x="548.05" textLength="50.47" lengthAdjust="spacingAndGlyphs">10</tspan> <tspan x="610.72" textLength="78.70" lengthAdjust="spacingAndGlyphs">000</tspan> <tspan x="701.38" textLength="204.53" lengthAdjust="spacingAndGlyphs">invånare)</tspan></text>
<text y="564.2" font-size="36.5" font-weight="normal" fill="#000"><tspan x="1381.46" textLength="126.08" lengthAdjust="spacingAndGlyphs">Högsby</tspan> <tspan x="1518.71" textLength="161.30" lengthAdjust="spacingAndGlyphs">kommun:</tspan> <tspan x="1687.72" textLength="60.56" lengthAdjust="spacingAndGlyphs">250</tspan> <tspan x="1758.73" textLength="57.24" lengthAdjust="spacingAndGlyphs">per</tspan> <tspan x="1825.69" textLength="39.02" lengthAdjust="spacingAndGlyphs">10</tspan> <tspan x="1874.86" textLength="60.94" lengthAdjust="spacingAndGlyphs">000</tspan> <tspan x="1944.72" textLength="47.84" lengthAdjust="spacingAndGlyphs">inv</tspan></text>
<text y="899.2" font-size="36.5" font-weight="normal" fill="#000"><tspan x="982.02" textLength="148.09" lengthAdjust="spacingAndGlyphs">Ragunda</tspan> <tspan x="1141.21" textLength="161.30" lengthAdjust="spacingAndGlyphs">kommun:</tspan> <tspan x="1310.59" textLength="56.49" lengthAdjust="spacingAndGlyphs">111</tspan> <tspan x="1380.85" textLength="57.62" lengthAdjust="spacingAndGlyphs">per</tspan> <tspan x="1448.95" textLength="39.15" lengthAdjust="spacingAndGlyphs">10</tspan> <tspan x="1496.92" textLength="61.38" lengthAdjust="spacingAndGlyphs">000</tspan> <tspan x="1568.11" textLength="48.65" lengthAdjust="spacingAndGlyphs">inv</tspan></text>
<text y="1137.6" font-size="37" font-weight="normal" fill="#000"><tspan x="8.58" textLength="94.27" lengthAdjust="spacingAndGlyphs">Källa:</tspan> <tspan x="111.68" textLength="311.95" lengthAdjust="spacingAndGlyphs">Migrationsverket.</tspan> <tspan x="433.46" textLength="160.18" lengthAdjust="spacingAndGlyphs">Personer</tspan> <tspan x="601.55" textLength="78.94" lengthAdjust="spacingAndGlyphs">med</tspan> <tspan x="691.46" textLength="101.49" lengthAdjust="spacingAndGlyphs">skydd</tspan> <tspan x="803.66" textLength="105.00" lengthAdjust="spacingAndGlyphs">under</tspan> <tspan x="919.50" textLength="364.09" lengthAdjust="spacingAndGlyphs">massflyktsdirektivet.</tspan></text>
<text y="477.8" font-size="43" font-weight="normal" fill="#0b0b08"><tspan x="161.29" textLength="71.10" lengthAdjust="spacingAndGlyphs">juni</tspan></text>
<text y="813" font-size="43" font-weight="normal" fill="#0b0b08"><tspan x="35.31" textLength="197.74" lengthAdjust="spacingAndGlyphs">december</tspan></text>
<text y="1050" font-size="43" font-weight="normal" fill="#0b0b08"><tspan x="320.76" textLength="24.26" lengthAdjust="spacingAndGlyphs">0</tspan> <tspan x="630.26" textLength="46.39" lengthAdjust="spacingAndGlyphs">50</tspan> <tspan x="936.76" textLength="71.94" lengthAdjust="spacingAndGlyphs">100</tspan> <tspan x="1256.76" textLength="71.94" lengthAdjust="spacingAndGlyphs">150</tspan> <tspan x="1578.04" textLength="71.16" lengthAdjust="spacingAndGlyphs">200</tspan> <tspan x="1898.04" textLength="71.16" lengthAdjust="spacingAndGlyphs">250</tspan></text>
</g>
<g>
<defs><linearGradient id="lg" x1="0" y1="0" x2="1" y2="1"><stop offset="0" stop-color="#3f6f86" stop-opacity="0.75"/><stop offset="1" stop-color="#3f7f8a" stop-opacity="0"/></linearGradient></defs>
<path d="M1745 1098 h39.600 a3 3 0 0 1 3 3 v35.500 l-20.300 15.500 l-5.300 -9.300 l-20 -5.200 v-36.500 a3 3 0 0 1 3 -3z" fill="#3a8f86"/>
<path d="M1750.500 1133.700 l5 -13 l8 -5 l22 22 l-18.500 13.500 l-5 -9 z M1777.500 1104 l4 0 l6 6 l0 22 l-6 -1z" fill="url(#lg)"/>
<g fill="#fff"><rect x="1749.600" y="1118.400" width="6.400" height="15.400" rx="3.100"/><rect x="1758.400" y="1114.400" width="6.400" height="19.400" rx="3.100"/><rect x="1767.300" y="1121.600" width="6.400" height="12.200" rx="3.100"/><rect x="1776.200" y="1103.200" width="5.600" height="23.400" rx="2.800"/><circle cx="1779" cy="1131.600" r="2.900"/></g>
<text x="1805.500" y="1131.600" font-family='"Liberation Sans", sans-serif' font-weight="normal" font-size="40.5" fill="#3a8f86" stroke="#3a8f86" stroke-width="1.3" textLength="220.500" lengthAdjust="spacingAndGlyphs">Newsworthy</text>
</g>

</svg>
</body></html>
